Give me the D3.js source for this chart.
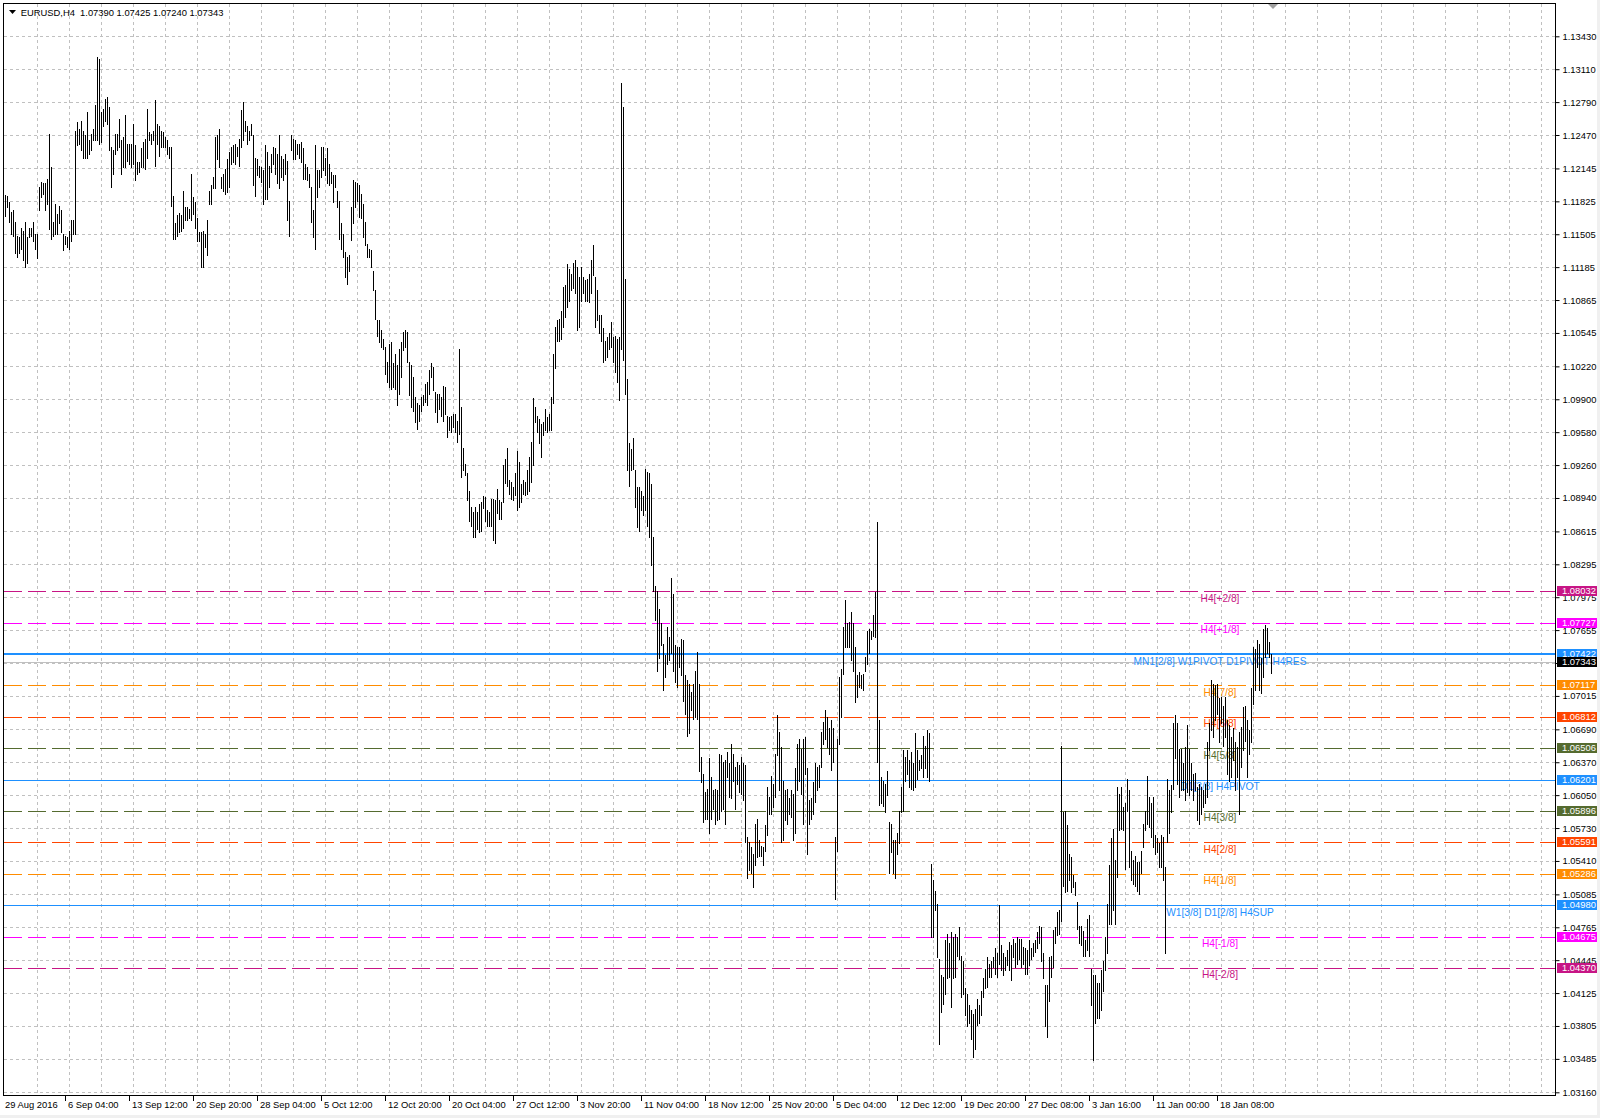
<!DOCTYPE html>
<html><head><meta charset="utf-8">
<script src="https://cdn.jsdelivr.net/npm/d3@7"></script>
<style>
html,body{margin:0;padding:0;background:#fff;}
svg{display:block;}
text{font-family:"Liberation Sans",Arial,sans-serif;}
</style></head><body>
<svg id="c" width="1600" height="1118"></svg>
<script>
// ---------------- data ----------------
const symbolTitle = "EURUSD,H4";
const lastOHLC = [1.07390, 1.07425, 1.07240, 1.07343];
const firstDateLabel = "29 Aug 2016";
const dateLabels = ["6 Sep 04:00","13 Sep 12:00","20 Sep 20:00","28 Sep 04:00","5 Oct 12:00","12 Oct 20:00","20 Oct 04:00","27 Oct 12:00","3 Nov 20:00","11 Nov 04:00","18 Nov 12:00","25 Nov 20:00","5 Dec 04:00","12 Dec 12:00","19 Dec 20:00","27 Dec 08:00","3 Jan 16:00","11 Jan 00:00","18 Jan 08:00"];
const dateLabelBars = [32,64,96,128,160,192,224,256,288,320,352,384,416,448,480,512,544,576,608];
const priceTicks = [1.13430,1.13110,1.12790,1.12470,1.12145,1.11825,1.11505,1.11185,1.10865,1.10545,1.10220,1.09900,1.09580,1.09260,1.08940,1.08615,1.08295,1.07975,1.07655,1.07335,1.07015,1.06690,1.06370,1.06050,1.05730,1.05410,1.05085,1.04765,1.04445,1.04125,1.03805,1.03485,1.03160];

// H4 bar highs / lows (one entry per bar, oldest first)
const highs = [
1.1189,1.1188,1.1182,1.1172,1.1174,1.1162,1.1149,1.1148,1.1157,1.1154,
1.1162,1.1148,1.1157,1.1157,1.1162,1.1151,1.1151,1.1196,1.1201,1.1200,
1.1200,1.1204,1.1248,1.1216,1.1162,1.1180,1.1170,1.1178,1.1174,1.1151,
1.1149,1.1148,1.1154,1.1164,1.1164,1.1251,1.1260,1.1253,1.1261,1.1251,
1.1247,1.1269,1.1242,1.1248,1.1253,1.1276,1.1323,1.1321,1.1269,1.1272,
1.1282,1.1284,1.1274,1.1235,1.1232,1.1248,1.1248,1.1263,1.1242,1.1245,
1.1266,1.1238,1.1238,1.1238,1.1258,1.1237,1.1221,1.1221,1.1234,1.1240,
1.1243,1.1272,1.1250,1.1248,1.1251,1.1281,1.1258,1.1256,1.1251,1.1250,
1.1245,1.1242,1.1235,1.1235,1.1188,1.1161,1.1169,1.1171,1.1169,1.1193,
1.1177,1.1177,1.1175,1.1209,1.1187,1.1182,1.1166,1.1153,1.1153,1.1154,
1.1151,1.1164,1.1193,1.1198,1.1206,1.1245,1.1247,1.1253,1.1206,1.1209,
1.1214,1.1224,1.1230,1.1235,1.1237,1.1238,1.1235,1.1243,1.1271,1.1279,
1.1261,1.1256,1.1251,1.1258,1.1247,1.1225,1.1224,1.1217,1.1216,1.1213,
1.1237,1.1230,1.1217,1.1229,1.1235,1.1234,1.1229,1.1247,1.1227,1.1224,
1.1229,1.1222,1.1183,1.1247,1.1243,1.1242,1.1238,1.1238,1.1240,1.1234,
1.1219,1.1216,1.1209,1.1196,1.1174,1.1237,1.1213,1.1213,1.1235,1.1235,
1.1225,1.1234,1.1219,
1.1211,1.1208,1.1208,1.1193,1.1183,1.1161,1.1151,1.1133,1.1128,1.1130,
1.1177,1.1203,1.1201,1.1200,1.1198,1.1190,1.1180,1.1162,1.1141,1.1136,
1.1135,1.1115,1.1096,1.1067,1.1067,1.1057,1.1049,1.1041,1.1026,1.1044,
1.1046,1.1025,1.1034,1.1023,1.1039,1.1046,1.1055,1.1057,1.1055,1.1026,
1.1023,1.1012,1.0992,1.0986,1.0984,1.0992,1.0994,1.1005,1.1007,1.1018,
1.1025,1.1021,1.0997,1.0995,1.0995,1.0992,1.1003,1.1002,1.0974,1.0973,
1.0974,1.0976,1.0976,1.0969,1.1039,1.0982,1.0943,1.0927,1.0918,1.0901,
1.0885,1.0880,1.0885,1.0880,1.0888,1.0890,1.0896,1.0895,1.0882,1.0880,
1.0893,1.0893,1.0892,1.0903,1.0892,1.0890,1.0926,1.0932,1.0943,1.0911,
1.0910,1.0905,1.0918,1.0940,1.0929,1.0908,1.0911,1.0910,1.0921,1.0934,
1.0948,1.0991,1.0982,1.0974,1.0971,1.0966,1.0968,1.0981,1.0973,1.0976,
1.0992,1.1034,1.1060,1.1067,1.1068,1.1076,1.1099,1.1101,1.1122,1.1117,
1.1112,1.1123,1.1125,1.1119,1.1109,1.1119,1.1109,1.1106,1.1107,1.1112,
1.1125,1.1140,1.1109,1.1096,1.1072,1.1072,1.1059,1.1047,1.1051,1.1054,
1.1065,1.1051,1.1052,1.1049,1.1051,
1.1298,1.1274,1.1107,1.1010,1.0947,1.0942,1.0952,1.0921,1.0905,1.0905,
1.0901,1.0896,1.0922,1.0919,1.0918,1.0908,
1.0856,1.0808,
1.0804,1.0786,1.0772,1.0752,1.0741,1.0769,1.0759,1.0816,1.0801,1.0751,
1.0749,1.0749,1.0757,1.0756,1.0722,1.0717,1.0713,1.0705,1.0713,1.0726,
1.0744,1.0713,1.0642,1.0626,1.0608,1.0611,1.0641,1.0623,1.0610,1.0611,
1.0610,1.0645,1.0644,1.0637,1.0639,1.0647,1.0636,1.0655,1.0645,1.0632,
1.0637,1.0634,1.0642,1.0636,1.0634,1.0564,1.0559,1.0555,1.0548,1.0577,
1.0582,1.0561,1.0556,1.0555,1.0576,1.0613,1.0603,1.0624,1.0616,1.0645,
1.0683,1.0666,1.0652,1.0619,1.0610,1.0611,1.0602,1.0610,1.0606,1.0631,
1.0655,1.0660,1.0650,1.0660,1.0662,1.0631,1.0600,1.0602,1.0618,1.0636,
1.0632,1.0634,1.0666,1.0676,1.0688,1.0681,1.0670,1.0678,1.0670,1.0564,
1.0660,1.0720,1.0728,1.0769,1.0795,1.0772,1.0773,1.0783,1.0772,1.0749,
1.0722,1.0725,1.0722,1.0723,1.0739,1.0765,1.0767,1.0765,1.0780,1.0803,
1.0871,1.0678,1.0623,1.0619,1.0616,1.0628,1.0579,1.0577,1.0561,1.0561,
1.0568,1.0590,1.0613,1.0649,1.0642,1.0649,1.0639,1.0647,1.0636,1.0665,
1.0649,1.0639,1.0644,1.0663,1.0653,1.0668,1.0665,
1.0538,1.0522,1.0512,1.0499,1.0446,1.0430,1.0428,1.0464,1.0470,1.0461,
1.0472,1.0467,1.0470,1.0467,1.0477,1.0449,1.0444,1.0417,1.0412,1.0401,
1.0396,1.0392,1.0397,1.0407,1.0401,1.0415,1.0427,1.0436,1.0448,1.0441,
1.0444,1.0448,1.0456,1.0451,1.0498,1.0459,1.0451,1.0448,1.0454,1.0462,
1.0459,1.0465,1.0461,1.0467,1.0465,1.0465,1.0457,1.0456,1.0454,1.0464,
1.0456,1.0461,1.0464,1.0472,1.0478,1.0477,1.0451,1.0420,1.0420,1.0448,
1.0449,1.0474,1.0477,1.0491,1.0493,1.0653,1.0589,1.0590,1.0576,1.0548,
1.0545,1.0527,1.0521,1.0501,1.0478,1.0478,1.0473,1.0464,1.0485,1.0488,
1.0436,1.0430,1.0430,1.0422,1.0422,1.0435,1.0444,1.0467,1.0499,1.0537,
1.0563,1.0572,1.0542,1.0613,1.0606,1.0613,1.0593,1.0597,1.0621,1.0610,
1.0551,1.0542,1.0546,1.0540,1.0540,1.0551,1.0577,1.0590,1.0624,1.0603,
1.0597,1.0603,1.0566,1.0563,1.0558,1.0566,1.0564,1.0535,1.0621,1.0610,
1.0615,1.0675,1.0683,1.0675,1.0650,1.0650,1.0636,1.0652,1.0673,1.0650,
1.0636,1.0626,1.0627,1.0613,1.0616,1.0613,1.0610,1.0616,1.0657,1.0675,
1.0717,1.0713,1.0712,1.0713,1.0699,1.0700,1.0692,1.0700,1.0678,1.0673,
1.0662,1.0670,1.0657,1.0652,1.0666,1.0671,1.0691,1.0692,1.0678,1.0668,
1.0709,1.0749,1.0747,1.0756,1.0752,1.0738,1.0767,1.0770,1.0768,1.0754,1.07425
];
const lows = [
1.1168,1.1177,1.1162,1.1151,1.1149,1.1132,1.1128,1.1132,1.1136,1.1125,
1.1119,1.1123,1.1148,1.1149,1.1144,1.1136,1.1127,1.1174,1.1187,1.1190,
1.1174,1.1180,1.1156,1.1146,1.1149,1.1151,1.1151,1.1161,1.1153,1.1135,
1.1141,1.1138,1.1136,1.1144,1.1151,1.1151,1.1237,1.1238,1.1232,1.1225,
1.1225,1.1225,1.1229,1.1232,1.1242,1.1242,1.1242,1.1238,1.1240,1.1256,
1.1261,1.1258,1.1232,1.1196,1.1209,1.1229,1.1232,1.1235,1.1209,1.1216,
1.1216,1.1222,1.1219,1.1216,1.1219,1.1203,1.1209,1.1211,1.1216,1.1216,
1.1214,1.1225,1.1242,1.1238,1.1242,1.1217,1.1238,1.1227,1.1235,1.1235,
1.1235,1.1229,1.1225,1.1178,1.1146,1.1146,1.1149,1.1153,1.1154,1.1157,
1.1164,1.1164,1.1166,1.1164,1.1170,1.1157,1.1144,1.1144,1.1119,1.1119,
1.1138,1.1130,1.1180,1.1180,1.1195,1.1195,1.1224,1.1216,1.1195,1.1193,
1.1190,1.1192,1.1196,1.1219,1.1221,1.1219,1.1227,1.1217,1.1235,1.1242,
1.1251,1.1238,1.1242,1.1247,1.1198,1.1188,1.1208,1.1206,1.1201,1.1180,
1.1185,1.1185,1.1196,1.1211,1.1219,1.1209,1.1200,1.1195,1.1206,1.1203,
1.1209,1.1164,1.1149,1.1232,1.1224,1.1224,1.1229,1.1225,1.1221,1.1204,
1.1204,1.1203,1.1196,1.1162,1.1148,1.1136,1.1187,1.1196,1.1206,1.1213,
1.1208,1.1200,1.1198,
1.1200,1.1182,1.1196,1.1177,1.1146,1.1136,1.1128,1.1109,1.1102,1.1115,
1.1145,1.1161,1.1177,1.1183,1.1167,1.1166,1.1148,1.1140,1.1128,1.1128,
1.1119,1.1096,1.1068,1.1052,1.1046,1.1041,1.1039,1.1015,1.1007,1.1002,
1.1000,1.1002,1.1000,1.0984,1.0995,1.1012,1.1038,1.1041,1.1026,1.0994,
1.0982,1.0979,1.0968,1.0961,1.0969,1.0979,1.0984,1.0987,1.0984,1.0995,
1.1012,1.0999,1.0978,1.0968,1.0981,1.0974,1.0969,1.0976,1.0953,1.0960,
1.0958,1.0963,1.0958,1.0948,1.0956,1.0914,1.0921,1.0916,1.0892,1.0872,
1.0867,1.0856,1.0856,1.0864,1.0861,1.0862,1.0884,1.0872,1.0867,1.0867,
1.0867,1.0853,1.0850,1.0879,1.0874,1.0874,1.0890,1.0909,1.0906,1.0898,
1.0893,1.0892,1.0897,1.0882,1.0885,1.0890,1.0898,1.0897,1.0898,1.0901,
1.0910,1.0926,1.0968,1.0958,1.0947,1.0934,1.0955,1.0960,1.0958,1.0960,
1.0960,1.0986,1.1020,1.1047,1.1047,1.1049,1.1060,1.1070,1.1080,1.1086,
1.1096,1.1098,1.1093,1.1057,1.1060,1.1086,1.1093,1.1086,1.1086,1.1085,
1.1093,1.1111,1.1060,1.1067,1.1054,1.1047,1.1026,1.1028,1.1031,1.1039,
1.1041,1.1026,1.1017,1.1007,1.0989,
1.1039,1.1028,1.0995,1.0921,1.0906,1.0921,1.0922,1.0885,1.0866,1.0862,
1.0882,1.0877,1.0882,1.0867,1.0856,1.0829,
1.0804,1.0775,
1.0726,1.0738,1.0751,1.0707,1.0720,1.0733,1.0736,1.0743,1.0726,1.0715,
1.0710,1.0730,1.0722,1.0697,1.0684,1.0663,1.0665,1.0688,1.0679,1.0681,
1.0679,1.0628,1.0618,1.0579,1.0582,1.0582,1.0568,1.0582,1.0592,1.0577,
1.0581,1.0582,1.0590,1.0592,1.0577,1.0623,1.0603,1.0602,1.0619,1.0592,
1.0616,1.0608,1.0606,1.0600,1.0559,1.0524,1.0532,1.0529,1.0516,1.0537,
1.0545,1.0546,1.0546,1.0537,1.0551,1.0566,1.0587,1.0587,1.0593,1.0603,
1.0644,1.0610,1.0559,1.0561,1.0581,1.0577,1.0587,1.0584,1.0561,1.0568,
1.0610,1.0619,1.0606,1.0577,1.0626,1.0548,1.0577,1.0582,1.0587,1.0598,
1.0610,1.0613,1.0632,1.0655,1.0660,1.0652,1.0645,1.0629,1.0637,1.0504,
1.0551,1.0655,1.0681,1.0723,1.0749,1.0749,1.0749,1.0736,1.0726,1.0696,
1.0700,1.0710,1.0709,1.0707,1.0726,1.0733,1.0743,1.0757,1.0760,1.0759,
1.0637,1.0595,1.0597,1.0594,1.0589,1.0605,1.0529,1.0550,1.0529,1.0524,
1.0548,1.0558,1.0589,1.0590,1.0619,1.0626,1.0613,1.0611,1.0610,1.0613,
1.0621,1.0629,1.0631,1.0623,1.0631,1.0623,1.0619,
1.0467,1.0467,1.0493,1.0448,1.0363,1.0394,1.0402,1.0412,1.0427,1.0428,
1.0399,1.0427,1.0428,1.0449,1.0446,1.0409,1.0412,1.0391,1.0380,1.0383,
1.0368,1.0350,1.0358,1.0381,1.0383,1.0391,1.0409,1.0417,1.0418,1.0428,
1.0428,1.0438,1.0431,1.0428,1.0441,1.0435,1.0430,1.0435,1.0440,1.0435,
1.0425,1.0448,1.0438,1.0441,1.0446,1.0438,1.0441,1.0431,1.0431,1.0440,
1.0446,1.0449,1.0452,1.0456,1.0461,1.0444,1.0427,1.0380,1.0370,1.0405,
1.0428,1.0438,1.0461,1.0469,1.0470,1.0483,1.0517,1.0511,1.0512,1.0522,
1.0511,1.0516,1.0508,1.0475,1.0461,1.0459,1.0449,1.0449,1.0454,1.0449,
1.0401,1.0347,1.0383,1.0388,1.0388,1.0396,1.0415,1.0435,1.0451,1.0480,
1.0480,1.0493,1.0480,1.0525,1.0571,1.0572,1.0571,1.0533,1.0590,1.0535,
1.0522,1.0519,1.0517,1.0512,1.0509,1.0529,1.0555,1.0571,1.0577,1.0574,
1.0564,1.0555,1.0548,1.0550,1.0535,1.0535,1.0522,1.0451,1.0559,1.0568,
1.0589,1.0611,1.0641,1.0616,1.0603,1.0610,1.0610,1.0600,1.0608,1.0605,
1.0610,1.0600,1.0610,1.0581,1.0577,1.0587,1.0593,1.0597,1.0603,1.0649,
1.0668,1.0662,1.0678,1.0684,1.0657,1.0675,1.0653,1.0662,1.0626,1.0619,
1.0623,1.0639,1.0610,1.0623,1.0587,1.0632,1.0649,1.0658,1.0623,1.0645,
1.0657,1.0694,1.0707,1.0730,1.0707,1.0704,1.0720,1.0739,1.0743,1.0739,1.0724
];

// Murrey / pivot levels
const levelPrices = [1.08032,1.07727,1.07422,1.07117,1.06812,1.06506,1.06201,1.05896,1.05591,1.05286,1.04980,1.04675,1.04370];
const levelNames  = ["H4[+2/8]","H4[+1/8]","MN1[2/8] W1PIVOT D1PIVOT H4RES","H4[7/8]","H4[6/8]","H4[5/8]","D1[3/8] H4PIVOT","H4[3/8]","H4[2/8]","H4[1/8]","W1[3/8] D1[2/8] H4SUP","H4[-1/8]","H4[-2/8]"];
const levelColors = ["#C71585","#FF00FF","#1E90FF","#FF8C00","#FF4500","#556B2F","#1E90FF","#556B2F","#FF4500","#FF8C00","#1E90FF","#FF00FF","#C71585"];
const levelSolid  = [false,false,true,false,false,false,true,false,false,false,true,false,false];
const levelWidth  = [1,1,2,1,1,1,1,1,1,1,1,1,1];

// ---------------- drawing ----------------
const svg = d3.select("#c");
const F = {l:3.5, t:3.5, r:1555.5, b:1095.5};
const y = d3.scaleLinear().domain([priceTicks[priceTicks.length-1], priceTicks[0]]).range([1092.3, 36.3]);
const x = d3.scaleLinear().domain([0, 1]).range([5, 7]); // bar index -> pixel
const crisp = v => Math.round(v) + 0.5;

svg.append("rect").attr("width",1600).attr("height",1118).attr("fill","#fff");

// grid
const grid = svg.append("g").attr("stroke","#c0c0c0").attr("stroke-width",1).attr("stroke-dasharray","3,3").attr("shape-rendering","crispEdges");
grid.selectAll("line.h").data(priceTicks).join("line").attr("class","h")
  .attr("x1",F.l).attr("x2",F.r).attr("y1",d=>crisp(y(d))).attr("y2",d=>crisp(y(d)));
const vIdx = d3.range(16, 800, 16).filter(i => x(i) < F.r - 2);
grid.selectAll("line.v").data(vIdx).join("line").attr("class","v")
  .attr("y1",F.t).attr("y2",F.b).attr("x1",d=>x(d)+0.5).attr("x2",d=>x(d)+0.5);

// bid line
svg.append("line").attr("x1",F.l).attr("x2",F.r)
  .attr("y1",crisp(y(lastOHLC[3]))).attr("y2",crisp(y(lastOHLC[3])))
  .attr("stroke","#c0c0c0").attr("shape-rendering","crispEdges");

// level lines
const lv = levelPrices.map((p,i)=>({p, name:levelNames[i], color:levelColors[i], solid:levelSolid[i], w:levelWidth[i]}));
svg.append("g").selectAll("line").data(lv).join("line")
  .attr("x1",F.l).attr("x2",F.r)
  .attr("y1",d=> d.w===2 ? Math.round(y(d.p)) : crisp(y(d.p)))
  .attr("y2",d=> d.w===2 ? Math.round(y(d.p)) : crisp(y(d.p)))
  .attr("stroke",d=>d.color).attr("stroke-width",d=>d.w)
  .attr("stroke-dasharray",d=>d.solid?null:"18,6")
  .attr("shape-rendering","crispEdges");

// level texts
svg.append("g").selectAll("text").data(lv).join("text")
  .attr("x",1220).attr("y",d=>y(d.p)+7)
  .attr("text-anchor","middle").attr("dominant-baseline","central")
  .attr("font-size","10.2px").attr("fill",d=>d.color).text(d=>d.name);

// bars (high-low lines)
const bars = highs.map((h,i)=>({i, h, l:lows[i]}));
svg.append("g").attr("shape-rendering","crispEdges").selectAll("rect").data(bars).join("rect")
  .attr("x",d=>x(d.i)).attr("width",1)
  .attr("y",d=>Math.round(y(d.h)))
  .attr("height",d=>Math.max(1, Math.round(y(d.l)) - Math.round(y(d.h)) + 1))
  .attr("fill","#000");

// frame
svg.append("rect").attr("x",F.l).attr("y",F.t).attr("width",F.r-F.l).attr("height",F.b-F.t)
  .attr("fill","none").attr("stroke","#000").attr("shape-rendering","crispEdges");

// price axis
const yAxis = d3.axisRight(y).tickValues(priceTicks).tickSize(4).tickPadding(3).tickFormat(d3.format(".5f"));
const ga = svg.append("g").attr("transform",`translate(${F.r},0)`).call(yAxis);
ga.select(".domain").remove();
ga.selectAll("text").attr("font-size","9.4px").attr("font-family","'Liberation Sans',Arial,sans-serif").attr("fill","#000");
ga.selectAll("line").attr("stroke","#000");

// level price boxes (drawn over the axis labels, as in the terminal)
const boxes = lv.map(d=>({p:d.p, color:d.color}));
boxes.push({p:lastOHLC[3], color:"#000"});
const gb = svg.append("g");
gb.selectAll("rect").data(boxes).join("rect")
  .attr("x",1557).attr("width",43).attr("y",d=>Math.round(y(d.p))-5).attr("height",10)
  .attr("fill",d=>d.color);
gb.selectAll("text").data(boxes).join("text")
  .attr("x",1562).attr("y",d=>Math.round(y(d.p))).attr("dy","0.35em")
  .attr("font-size","9.4px").attr("fill","#fff").text(d=>d3.format(".5f")(d.p));

// time axis
const gt = svg.append("g");
gt.append("text").attr("x",x(0)).attr("y",1108).attr("font-size","9.4px").attr("fill","#000").text(firstDateLabel);
const dl = dateLabels.map((t,i)=>({t, b:dateLabelBars[i]}));
gt.selectAll("line").data(dl).join("line")
  .attr("x1",d=>x(d.b)-3.5).attr("x2",d=>x(d.b)-3.5).attr("y1",F.b).attr("y2",F.b+5)
  .attr("stroke","#000").attr("shape-rendering","crispEdges");
gt.selectAll("text.d").data(dl).join("text").attr("class","d")
  .attr("x",d=>x(d.b)-1).attr("y",1108).attr("font-size","9.4px").attr("fill","#000").text(d=>d.t);

// title
svg.append("path").attr("d","M9,10 L16,10 L12.5,14 Z").attr("fill","#000");
svg.append("text").attr("x",20.7).attr("y",16).attr("font-size","9.4px").attr("fill","#000")
  .attr("xml:space","preserve")
  .text(symbolTitle + "  " + lastOHLC.map(d3.format(".5f")).join(" "));

// chart shift marker
svg.append("path").attr("d",`M${x(highs.length-1)-3},4 L${x(highs.length-1)+7},4 L${x(highs.length-1)+2},9 Z`).attr("fill","#a0a0a0");

// window edges
svg.append("rect").attr("x",0).attr("y",1115).attr("width",1600).attr("height",3).attr("fill","#f0f0f0");
svg.append("rect").attr("x",1597).attr("y",0).attr("width",3).attr("height",1118).attr("fill","#f0f0f0");
</script>
</body></html>
